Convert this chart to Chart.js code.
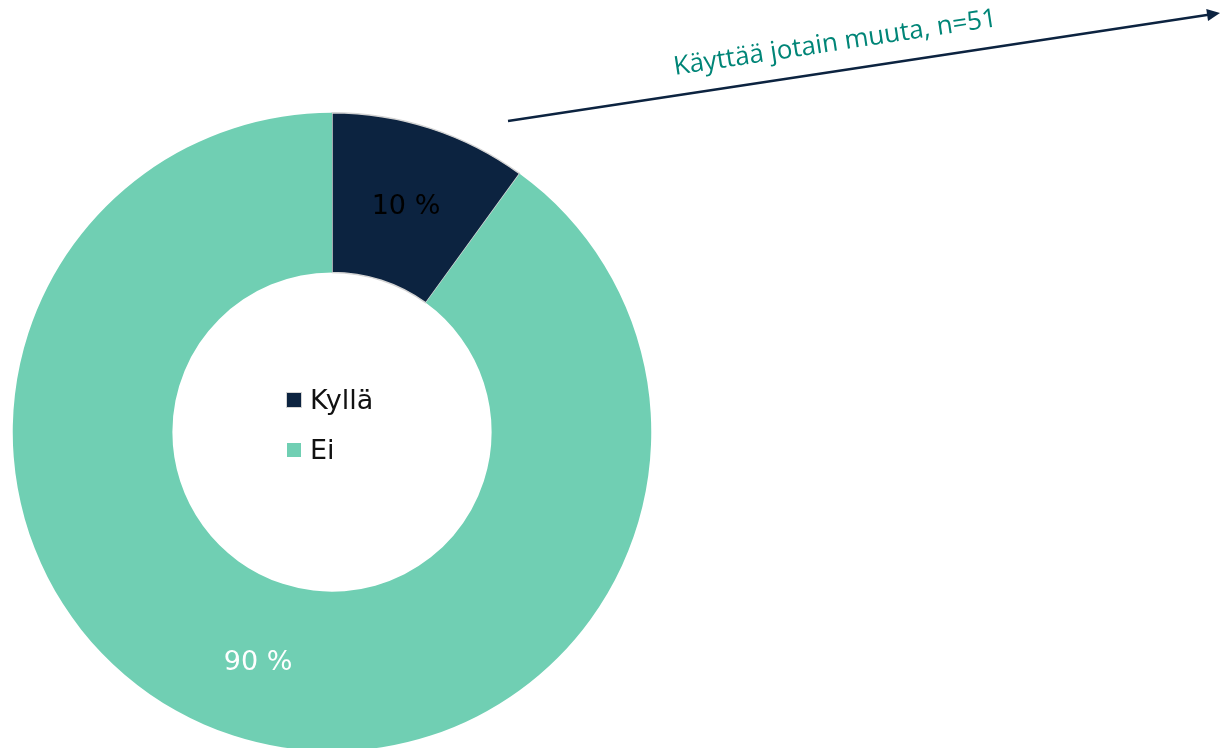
<!DOCTYPE html>
<html>
<head>
<meta charset="utf-8">
<script src="https://cdn.jsdelivr.net/npm/chart.js@4"></script>
<style>
  html, body { margin: 0; padding: 0; background: #fff; overflow: hidden; width: 1220px; height: 748px; }
  canvas { display: block; }
</style>
</head>
<body>
<canvas id="chart" width="1220" height="760"></canvas>
<script>
var labels = ["Kyllä", "Ei"];
var values = [10, 90];
var colors = ["#0c2340", "#70cfb3"];
var borders = ["#d4d4d4", "#70cfb3"];
var labelColors = ["#000000", "#ffffff"];
var noteText = "Käyttää jotain muuta, n=51";

// Draws the percentage labels, the legend in the hole and the arrow note
const extras = {
    id: 'extras',
    afterDatasetsDraw: (chart) => {
        var ctx = chart.ctx;
        var meta = chart.getDatasetMeta(0);
        ctx.save();
        ctx.font = '27px "DejaVu Sans", sans-serif';
        ctx.textAlign = 'center';
        ctx.textBaseline = 'middle';
        meta.data.forEach((arc, i) => {
            var p = arc.tooltipPosition();
            ctx.fillStyle = labelColors[i];
            ctx.fillText(values[i] + ' %', p.x, p.y + 3);
        });

        // legend in the middle
        var arc0 = meta.data[0];
        var cx = arc0.x, cy = arc0.y;
        ctx.textAlign = 'left';
        for (var i = 0; i < labels.length; i++) {
            var y = cy - 32 + i * 50;
            ctx.fillStyle = colors[i];
            ctx.fillRect(cx - 45, y - 7, 14, 14);
            if (i == 0) {
                ctx.strokeStyle = borders[0];
                ctx.lineWidth = 1;
                ctx.strokeRect(cx - 45.5, y - 7.5, 15, 15);
            }
            ctx.fillStyle = '#111111';
            ctx.fillText(labels[i], cx - 22, y + 2);
        }

        // arrow and note
        var x1 = 508, y1 = 121, x2 = 1220, y2 = 13;
        var ang = Math.atan2(y2 - y1, x2 - x1);
        ctx.strokeStyle = '#0c2340';
        ctx.lineWidth = 2.5;
        ctx.beginPath();
        ctx.moveTo(x1, y1);
        ctx.lineTo(x2 - 10 * Math.cos(ang), y2 - 10 * Math.sin(ang));
        ctx.stroke();
        ctx.fillStyle = '#0c2340';
        ctx.save();
        ctx.translate(x2, y2);
        ctx.rotate(ang);
        ctx.beginPath();
        ctx.moveTo(0, 0);
        ctx.lineTo(-13, -6);
        ctx.lineTo(-13, 6);
        ctx.closePath();
        ctx.fill();
        ctx.restore();

        ctx.save();
        ctx.translate(675, 75);
        ctx.rotate(ang);
        ctx.fillStyle = '#008577';
        ctx.font = '26px "Open Sans", sans-serif';
        ctx.textAlign = 'left';
        ctx.textBaseline = 'alphabetic';
        ctx.fillText(noteText, 0, 0);
        ctx.restore();
        ctx.restore();
    }
};

var myChart = new Chart(document.getElementById('chart'), {
    type: 'doughnut',
    data: {
        labels: labels,
        datasets: [{
            data: values,
            backgroundColor: colors,
            borderColor: borders,
            borderWidth: [1.5, 0]
        }]
    },
    options: {
        responsive: false,
        animation: false,
        cutout: '50%',
        layout: {
            padding: { left: 12, right: 568, top: 112, bottom: 8 }
        },
        plugins: {
            legend: { display: false },
            tooltip: { enabled: false }
        }
    },
    plugins: [extras]
});
</script>
</body>
</html>
